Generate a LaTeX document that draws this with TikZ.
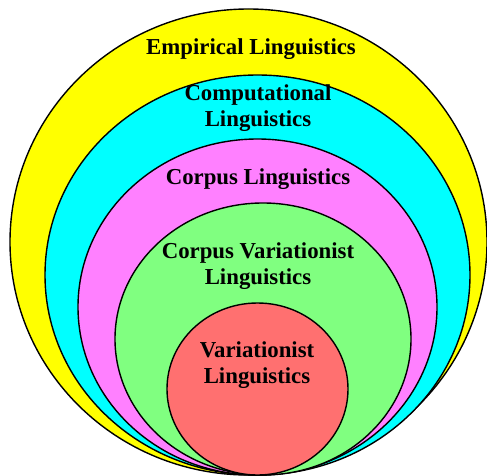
\documentclass[tikz,border=0pt]{standalone}
\usepackage{fontspec}
\setmainfont{Liberation Serif}
\usepackage{xcolor}
\usepackage{tikz}
\usetikzlibrary{positioning}

\definecolor{empyellow}{HTML}{FFFF00}
\definecolor{compcyan}{HTML}{00FFFF}
\definecolor{corppink}{HTML}{FF80FF}
\definecolor{cvargreen}{HTML}{80FF80}
\definecolor{varred}{HTML}{FF7070}

\begin{document}
\begin{tikzpicture}[
    x=1pt, y=-1pt,
    ring/.style={draw=black, line width=1.4pt},
    lbl/.style={font=\fontsize{22.8}{26.5}\selectfont\bfseries, align=center, inner sep=0pt}
]
    \useasboundingbox (0,0) rectangle (487,476);

    % Nested fields, outermost first
    \foreach \cx/\cy/\rx/\ry/\col in {
        248.5/242/238.5/233/empyellow,
        257.5/275/212.5/200/compcyan,
        257.5/307/179.5/168/corppink,
        263/339/148/136/cvargreen,
        257.5/389/90.5/86/varred} {
        \draw[ring, fill=\col] (\cx,\cy) ellipse [x radius=\rx, y radius=\ry];
    }

    % Labels
    \node[lbl] (empirical) at (251,49) {Empirical Linguistics};
    \node[lbl] (computational) at (258,108) {Computational\\Linguistics};
    \node[lbl] (corpus) at (258,179) {Corpus Linguistics};
    \node[lbl] (corpusvar) at (258,266) {Corpus Variationist\\Linguistics};
    \node[lbl] (variationist) at (257,365) {Variationist\\Linguistics};

\end{tikzpicture}
\end{document}
